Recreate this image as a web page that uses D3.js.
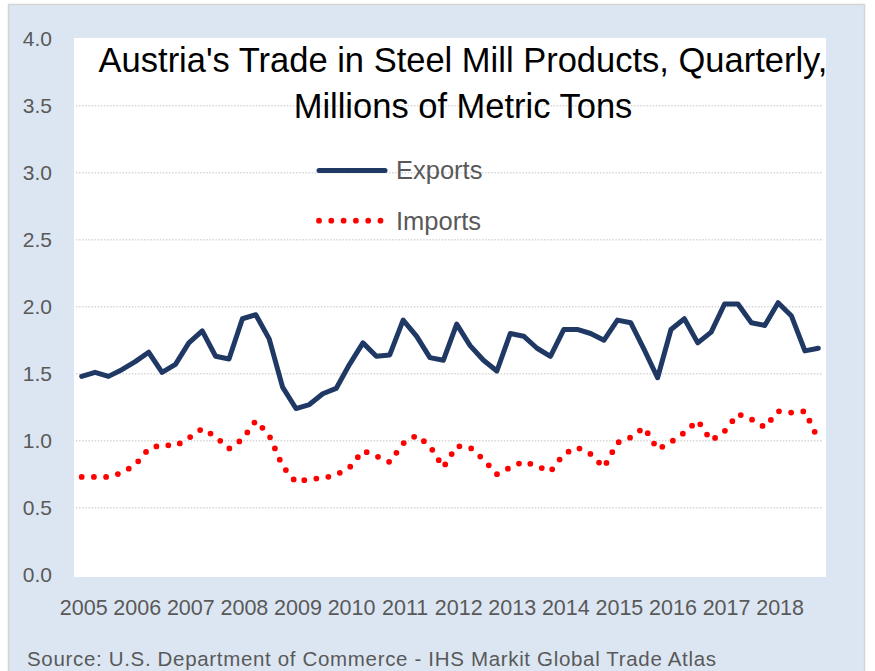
<!DOCTYPE html>
<html>
<head>
<meta charset="utf-8">
<script src="https://cdn.jsdelivr.net/npm/d3@7"></script>
<style>
  body { margin: 0; background: #ffffff; }
  text { font-family: "Liberation Sans", Arial, sans-serif; }
</style>
</head>
<body>
<script>
// Years shown on the category axis (one label per year, at Q1)
var years = [2005, 2006, 2007, 2008, 2009, 2010, 2011, 2012, 2013, 2014, 2015, 2016, 2017, 2018];

// Quarterly exports, millions of metric tons (2005 Q1 .. 2018 Q4)
var exports = [
  1.48, 1.51, 1.48, 1.53,
  1.59, 1.66, 1.51, 1.57,
  1.73, 1.82, 1.63, 1.61,
  1.91, 1.94, 1.76, 1.40,
  1.24, 1.27, 1.35, 1.39,
  1.57, 1.73, 1.63, 1.64,
  1.90, 1.78, 1.62, 1.60,
  1.87, 1.71, 1.60, 1.52,
  1.80, 1.78, 1.69, 1.63,
  1.83, 1.83, 1.80, 1.75,
  1.90, 1.88, 1.68, 1.47,
  1.83, 1.91, 1.73, 1.81,
  2.02, 2.02, 1.88, 1.86,
  2.03, 1.93, 1.67, 1.69
];

// Quarterly imports, millions of metric tons
var imports = [
  0.73, 0.73, 0.73, 0.76,
  0.82, 0.94, 0.97, 0.96,
  1.02, 1.09, 1.03, 0.94,
  1.01, 1.15, 1.04, 0.81,
  0.69, 0.715, 0.72, 0.745,
  0.80, 0.925, 0.885, 0.84,
  0.98, 1.04, 0.96, 0.80,
  0.96, 0.95, 0.86, 0.75,
  0.80, 0.845, 0.81, 0.77,
  0.90, 0.95, 0.90, 0.80,
  0.985, 1.025, 1.10, 0.935,
  0.99, 1.06, 1.15, 1.00,
  1.07, 1.20, 1.16, 1.10,
  1.22, 1.21, 1.22, 1.01
];

// y axis tick values
var yTicks = [0, 0.5, 1.0, 1.5, 2.0, 2.5, 3.0, 3.5, 4.0];

var titleLines = ["Austria's Trade in Steel Mill Products, Quarterly,", "Millions of Metric Tons"];
var seriesNames = ["Exports", "Imports"];
var sourceText = "Source: U.S. Department of Commerce - IHS Markit Global Trade Atlas";

// SVG area
var svgWidth = 875;
var svgHeight = 671;

// plot area (white box)
var plot = { left: 74, right: 826, top: 38, bottom: 577 };

var svg = d3.select("body")
  .append("svg")
  .attr("width", svgWidth)
  .attr("height", svgHeight);

// chart background with thin border
svg.append("rect")
  .attr("x", 8.5)
  .attr("y", 4.5)
  .attr("width", 856)
  .attr("height", 700)
  .attr("fill", "#dce6f2")
  .attr("stroke", "#d4d4d4")
  .attr("stroke-width", 1.5);

svg.append("rect")
  .attr("x", plot.left)
  .attr("y", plot.top)
  .attr("width", plot.right - plot.left)
  .attr("height", plot.bottom - plot.top)
  .attr("fill", "#ffffff");

// scales
var quarters = d3.range(exports.length);

var xScale = d3.scalePoint()
  .domain(quarters)
  .range([75, 825])
  .padding(0.5);

var yScale = d3.scaleLinear()
  .domain([0, 4])
  .range([574.7, 38.7]);

// gridlines (dotted)
svg.append("g")
  .selectAll("line")
  .data(yTicks.filter(d => d > 0 && d < 4))
  .enter()
  .append("line")
  .attr("x1", 76)
  .attr("x2", 822)
  .attr("y1", d => yScale(d))
  .attr("y2", d => yScale(d))
  .attr("stroke", "#d6d6d6")
  .attr("stroke-width", 1.5)
  .attr("stroke-dasharray", "1.5 1.6");

// left axis, labels only
var leftAxis = d3.axisLeft(yScale)
  .tickValues(yTicks)
  .tickFormat(d3.format(".1f"))
  .tickSize(0)
  .tickPadding(0);

var yAxisGroup = svg.append("g")
  .attr("transform", "translate(52, 0)")
  .call(leftAxis);

yAxisGroup.select(".domain").remove();
yAxisGroup.selectAll("text")
  .attr("font-family", "Liberation Sans, Arial, sans-serif")
  .attr("font-size", "21px")
  .attr("fill", "#595959");

// bottom axis, one year label per 4 quarters
var bottomAxis = d3.axisBottom(xScale)
  .tickValues(years.map((y, i) => i * 4))
  .tickFormat((d, i) => years[i])
  .tickSize(0)
  .tickPadding(0);

var xAxisGroup = svg.append("g")
  .attr("transform", "translate(1.5, 600)")
  .call(bottomAxis);

xAxisGroup.select(".domain").remove();
xAxisGroup.selectAll("text")
  .attr("font-family", "Liberation Sans, Arial, sans-serif")
  .attr("font-size", "21.5px")
  .attr("fill", "#595959");

// lines
var line = d3.line()
  .x((d, i) => xScale(i))
  .y(d => yScale(d));

svg.append("path")
  .datum(imports)
  .attr("d", line)
  .attr("fill", "none")
  .attr("stroke", "#ff0000")
  .attr("stroke-width", 5.75)
  .attr("stroke-linecap", "round")
  .attr("stroke-dasharray", "0 12.2");

svg.append("path")
  .datum(exports)
  .attr("d", line)
  .attr("fill", "none")
  .attr("stroke", "#1f3864")
  .attr("stroke-width", 5)
  .attr("stroke-linejoin", "round")
  .attr("stroke-linecap", "round");

// title
svg.append("g")
  .selectAll("text")
  .data(titleLines)
  .enter()
  .append("text")
  .attr("x", 463)
  .attr("y", (d, i) => 72 + i * 46)
  .attr("text-anchor", "middle")
  .attr("font-size", "34.5px")
  .attr("fill", "#000000")
  .text(d => d);

// legend
var legend = svg.append("g");

legend.append("line")
  .attr("x1", 319).attr("x2", 385)
  .attr("y1", 170.5).attr("y2", 170.5)
  .attr("stroke", "#1f3864")
  .attr("stroke-width", 5)
  .attr("stroke-linecap", "round");

legend.append("line")
  .attr("x1", 319).attr("x2", 382)
  .attr("y1", 220.7).attr("y2", 220.7)
  .attr("stroke", "#ff0000")
  .attr("stroke-width", 5.75)
  .attr("stroke-linecap", "round")
  .attr("stroke-dasharray", "0 12.3");

legend.selectAll(".legend-label")
  .data(seriesNames)
  .enter()
  .append("text")
  .attr("class", "legend-label")
  .attr("x", 396)
  .attr("y", (d, i) => 179 + i * 51)
  .attr("font-size", "25.5px")
  .attr("fill", "#595959")
  .text(d => d);

// source note
svg.append("text")
  .attr("x", 27)
  .attr("y", 666)
  .attr("font-size", "20.5px")
  .attr("fill", "#595959")
  .attr("textLength", 689)
  .attr("lengthAdjust", "spacing")
  .text(sourceText);
</script>
</body>
</html>
